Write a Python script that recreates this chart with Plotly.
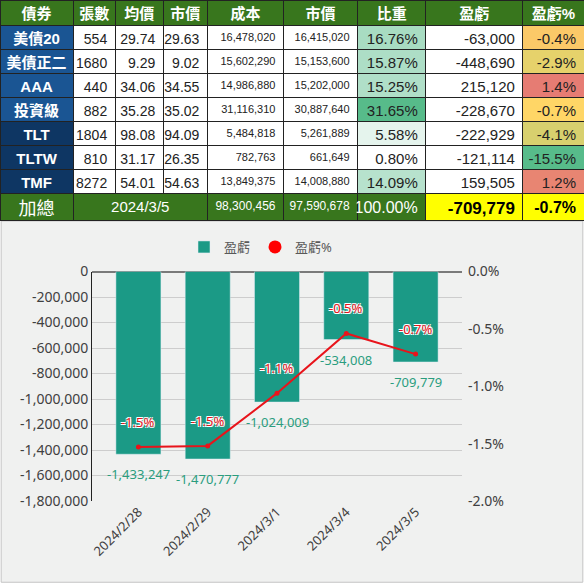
import plotly.graph_objects as go

# holdings table
names = ['美債20', '美債正二', 'AAA', '投資級', 'TLT', 'TLTW', 'TMF']
shares = [554, 1680, 440, 882, 1804, 810, 8272]
avg_price = [29.74, 9.29, 34.06, 35.28, 98.08, 31.17, 54.01]
mkt_price = [29.63, 9.02, 34.55, 35.02, 94.09, 26.35, 54.63]
cost = [16478020, 15602290, 14986880, 31116310, 5484818, 782763, 13849375]
mkt_value = [16415020, 15153600, 15202000, 30887640, 5261889, 661649, 14008880]
weight = [16.76, 15.87, 15.25, 31.65, 5.58, 0.80, 14.09]
pnl = [-63000, -448690, 215120, -228670, -222929, -121114, 159505]
pnl_pct = [-0.4, -2.9, 1.4, -0.7, -4.1, -15.5, 1.2]
headers = ['債券', '張數', '均價', '市價', '成本', '市價', '比重', '盈虧', '盈虧%']

# total row
total_label = '加總'
total_date = '2024/3/5'
total_cost = 98300456
total_value = 97590678
total_weight = 100.00
total_pnl = -709779
total_pct = -0.7

# daily chart
dates = ['2024/2/28', '2024/2/29', '2024/3/1', '2024/3/4', '2024/3/5']
daily_pnl = [-1433247, -1470777, -1024009, -534008, -709779]
daily_pct = [-1.53, -1.52, -1.06, -0.54, -0.72]

GREEN = '#38761d'
BLUE = '#1a5593'
NAVY = '#0e3663'
TFONT = 'Liberation Sans, Noto Sans CJK TC, sans-serif'
CFONT = 'Noto Sans, Noto Sans CJK TC, sans-serif'
H = 584
OUTLINE = '1px 1px 0 white, -1px -1px 0 white, 1px -1px 0 white, -1px 1px 0 white'


def mix(c1, c2, t):
    a = [int(c1[i:i + 2], 16) for i in (1, 3, 5)]
    b = [int(c2[i:i + 2], 16) for i in (1, 3, 5)]
    return '#%02x%02x%02x' % tuple(round(a[k] + (b[k] - a[k]) * t) for k in range(3))


wmin, wmax = min(weight), max(weight)
weight_fill = [mix('#ffffff', '#57bb8a', (w - wmin) / (wmax - wmin)) for w in weight]

pmid = sorted(pnl_pct)[len(pnl_pct) // 2]
pmin, pmax = min(pnl_pct), max(pnl_pct)
pct_fill = []
for p in pnl_pct:
    if p <= pmid:
        pct_fill.append(mix('#57bb8a', '#ffd666', (p - pmin) / (pmid - pmin)))
    else:
        pct_fill.append(mix('#ffd666', '#e67c73', (p - pmid) / (pmax - pmid)))

n = len(names)
white = ['white'] * n
# bond funds in lighter blue, the TLT family in navy
name_fill = [NAVY if s.startswith('TLT') or s == 'TMF' else BLUE for s in names]
cell_vals = [
    names,
    [str(v) for v in shares],
    ['%.2f' % v for v in avg_price],
    ['%.2f' % v for v in mkt_price],
    [f'{v:,}' for v in cost],
    [f'{v:,}' for v in mkt_value],
    ['%.2f%%' % v for v in weight],
    [f'{v:,}' for v in pnl],
    ['%.1f%%' % v for v in pnl_pct],
]

fig = go.Figure()

# gray chart panel
fig.add_shape(type='rect', xref='paper', yref='paper', x0=0.002, x1=0.998,
              y0=0.003, y1=1 - 221 / H, fillcolor='#f0f1f0',
              line=dict(color='#c4c4c4', width=1), layer='below')

fig.add_trace(go.Table(
    domain=dict(x=[0, 1], y=[1 - 196 / H, 1]),
    columnwidth=[73, 42, 48, 44, 76, 74, 68, 97, 61],
    header=dict(values=headers, fill_color=GREEN,
                line=dict(color='#222222', width=1), align='center', height=25,
                font=dict(color='white', size=15, family=TFONT, weight='bold')),
    cells=dict(values=cell_vals,
               fill_color=[name_fill, white, white, white, white, white,
                           weight_fill, white, pct_fill],
               line=dict(color='#222222', width=1),
               align=['center', 'right', 'right', 'right', 'right', 'right',
                      'right', 'right', 'right'],
               height=24,
               font=dict(color=['white'] + ['#222222'] * 8,
                         size=[15, 14, 14, 14, 11, 11, 15, 15, 15],
                         weight=['bold'] + ['normal'] * 8,
                         family=TFONT)),
))

fig.add_trace(go.Table(
    domain=dict(x=[0, 1], y=[1 - 223 / H, 1 - 193 / H]),
    columnwidth=[73, 134, 76, 74, 68, 97, 61],
    header=dict(values=[total_label, total_date, f'{total_cost:,}', f'{total_value:,}',
                        '%.2f%%' % total_weight, f'{total_pnl:,}',
                        '%.1f%%' % total_pct],
                fill_color=[GREEN, GREEN, GREEN, GREEN, GREEN, '#ffff00', '#ffff00'],
                line=dict(color='#222222', width=1),
                align=['center', 'center', 'right', 'right', 'right', 'right', 'right'],
                height=27,
                font=dict(color=['white'] * 5 + ['black'] * 2,
                          size=[18, 15, 12, 12, 16, 17, 16],
                          weight=['normal'] * 5 + ['bold'] * 2, family=TFONT)),
    cells=dict(values=[[]] * 7, height=0),
))

fig.add_trace(go.Bar(
    x=dates, y=daily_pnl, name='盈虧', marker_color='#1b9a86', width=0.65,
))

fig.add_trace(go.Scatter(
    x=dates, y=daily_pct, yaxis='y2', mode='lines+markers', showlegend=False,
    line=dict(color='#e8141b', width=2), marker=dict(size=5, color='#e8141b'),
))
# legend-only marker for the line series
fig.add_trace(go.Scatter(
    x=[None], y=[None], yaxis='y2', mode='markers', name='盈虧%',
    marker=dict(size=13, color='#ff0000'),
))

# value labels under each bar end
for d, v in zip(dates, daily_pnl):
    fig.add_annotation(x=d, y=v, xref='x', yref='y', yshift=-20, showarrow=False,
                       text=f'{v:,}',
                       font=dict(color='#2a9d7e', size=13, family=CFONT))

# percent labels above each line point
for d, p in zip(dates, daily_pct):
    fig.add_annotation(x=d, y=p, xref='x', yref='y2', yshift=25, showarrow=False,
                       text='%.1f%%' % p,
                       font=dict(color='#e8141b', size=13, family=CFONT, shadow=OUTLINE))

ytick = [0, -200000, -400000, -600000, -800000, -1000000, -1200000,
         -1400000, -1600000, -1800000]
y2tick = [0.0, -0.5, -1.0, -1.5, -2.0]

fig.update_layout(
    width=584, height=584, margin=dict(l=0, r=0, t=0, b=0),
    paper_bgcolor='white', plot_bgcolor='rgba(0,0,0,0)',
    font=dict(family=CFONT, color='#404040'),
    xaxis=dict(domain=[92 / 584, 462 / 584], range=[-0.67, 4.67], tickangle=-45,
               tickfont=dict(size=13, color='#404040'), showgrid=False,
               showline=False, ticks='', automargin=False),
    yaxis=dict(domain=[1 - 501 / H, 1 - 271.5 / H], range=[-1800000, 0],
               tickvals=ytick, ticktext=[f'{v:,}' for v in ytick],
               tickfont=dict(size=14, color='#404040'),
               gridcolor='#cdcdcd', gridwidth=1,
               zeroline=True, zerolinecolor='#7a7a7a', zerolinewidth=1.5,
               showline=True, linecolor='#222222', linewidth=1, ticks='',
               automargin=False),
    yaxis2=dict(overlaying='y', side='right', range=[-2.0, 0],
                tickvals=y2tick, ticktext=['%.1f%%' % v for v in y2tick],
                tickfont=dict(size=14, color='#404040'), showgrid=False,
                zeroline=False, showline=False, automargin=False,
                ticklabelstandoff=5),
    legend=dict(orientation='h', x=261 / 584, xanchor='center', y=1 - 247 / H,
                yanchor='middle', font=dict(size=13, color='#595959'),
                bgcolor='rgba(0,0,0,0)'),
    showlegend=True,
)

# drop the default page margin so the figure sits at the window corner
fig.write_html('out.html', config={'displayModeBar': False},
               post_script="document.body.style.margin='0';")
